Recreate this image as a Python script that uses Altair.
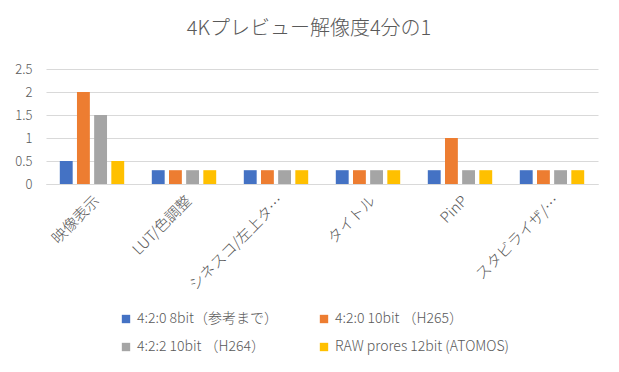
import altair as alt
import pandas as pd

categories = ["映像表示", "LUT/色調整", "シネスコ/左上タ…", "タイトル", "PinP", "スタビライザ/…"]
series = ["4:2:0 8bit（参考まで）", "4:2:0 10bit （H265）", "4:2:2 10bit （H264）", "RAW prores 12bit (ATOMOS)"]
values_8bit_420 = [0.5, 0.3, 0.3, 0.3, 0.3, 0.3]
values_10bit_420 = [2.0, 0.3, 0.3, 0.3, 1.0, 0.3]
values_10bit_422 = [1.5, 0.3, 0.3, 0.3, 0.3, 0.3]
values_raw = [0.5, 0.3, 0.3, 0.3, 0.3, 0.3]
colors = ["#4472C4", "#ED7D31", "#A5A5A5", "#FFC000"]
y_ticks = [0, 0.5, 1, 1.5, 2, 2.5]

rows = []
for s, vals in zip(series, [values_8bit_420, values_10bit_420, values_10bit_422, values_raw]):
    for c, v in zip(categories, vals):
        rows.append({"category": c, "series": s, "value": v})
df = pd.DataFrame(rows)

FONT = "Noto Sans CJK JP"
TXT = "#595959"

chart = alt.Chart(df).mark_bar().encode(
    x=alt.X("category:N", sort=categories, title=None,
            scale=alt.Scale(paddingInner=0.3, paddingOuter=0.15),
            axis=alt.Axis(labelAngle=-45, labelAlign="right", labelBaseline="top",
                          labelPadding=9, ticks=False, domainColor="#d9d9d9",
                          labelColor=TXT, labelFontSize=15, labelFont=FONT,
                          labelFontWeight=300, labelLimit=200)),
    xOffset=alt.XOffset("series:N", sort=series, scale=alt.Scale(paddingInner=0.25, paddingOuter=0)),
    y=alt.Y("value:Q", title=None, scale=alt.Scale(domain=[0, 2.5]),
            axis=alt.Axis(values=y_ticks, format="~g", domain=False, ticks=False,
                          gridColor="#d9d9d9", labelColor=TXT, labelFontSize=13,
                          labelFont=FONT, labelFontWeight=300, labelPadding=14)),
    color=alt.Color("series:N", sort=series,
                    scale=alt.Scale(domain=series, range=colors),
                    legend=alt.Legend(title=None, orient="none", legendX=73, legendY=243,
                                      direction="horizontal", columns=2, columnPadding=38,
                                      rowPadding=14, symbolType="square", symbolSize=70,
                                      symbolStrokeWidth=0, labelFont=FONT, labelFontSize=14,
                                      labelFontWeight=300, labelColor=TXT, labelLimit=300)),
).properties(
    width=552,
    height=115,
    title=alt.TitleParams("4Kプレビュー解像度4分の1", font=FONT, fontSize=20, fontWeight=300,
                          color=TXT, anchor="middle", frame="group", dx=-13, offset=24),
    autosize=alt.AutoSizeParams(type="none"),
    padding={"left": 38, "top": 61, "right": 13, "bottom": 180},
).configure_view(stroke=None)

chart.save("out.html", embed_options={"renderer": "svg", "actions": False})
